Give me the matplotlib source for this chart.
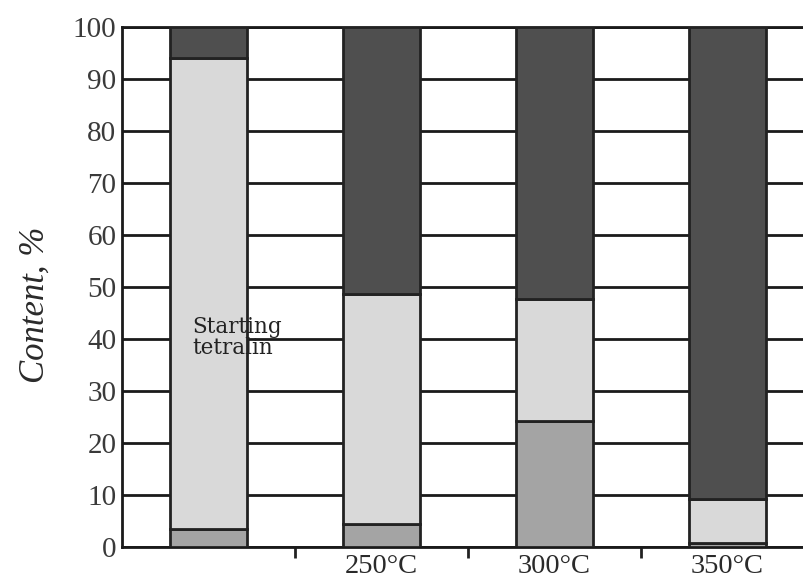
import matplotlib
matplotlib.use("Agg")
import matplotlib.pyplot as plt
from matplotlib.ticker import FixedLocator

categories = ["", "250°C", "300°C", "350°C"]
bottom_part = [3.5, 4.5, 24.3, 0.8]
middle_part = [90.5, 44.2, 23.4, 8.5]
top_part = [6.0, 51.3, 52.3, 90.7]

col_bottom = "#a4a4a4"
col_middle = "#d9d9d9"
col_top = "#4f4f4f"
edge = "#222222"

plt.rcParams["font.family"] = ["Liberation Serif", "DejaVu Serif"]

fig = plt.figure(figsize=(8.04, 5.79), dpi=100)
ax = fig.add_axes([0.1517, 0.0553, 0.8483, 0.898])

x = list(range(len(categories)))
w = 0.445
kw = dict(width=w, edgecolor=edge, linewidth=2.0, zorder=3)
ax.bar(x, bottom_part, color=col_bottom, **kw)
ax.bar(x, middle_part, bottom=bottom_part, color=col_middle, **kw)
b3 = [a + b for a, b in zip(bottom_part, middle_part)]
ax.bar(x, top_part, bottom=b3, color=col_top, **kw)

ax.set_xlim(-0.5, 3.445)
ax.set_ylim(0, 100)
ax.set_yticks(range(0, 101, 10))
ax.yaxis.grid(True, color="#1a1a1a", linewidth=2.0, zorder=1)
ax.set_axisbelow(True)
ax.tick_params(axis="y", length=0, labelsize=21, pad=4, labelcolor="#3a3a3a")

ax.set_xticks(x)
ax.set_xticklabels(categories)
ax.tick_params(axis="x", which="major", length=0, labelsize=20.5, pad=5, labelcolor="#2a2a2a")
ax.xaxis.set_minor_locator(FixedLocator([0.5, 1.5, 2.5]))
ax.tick_params(axis="x", which="minor", length=8, width=2, direction="out", color="#222222")

for s in ["left", "bottom", "top"]:
    ax.spines[s].set_linewidth(2.0)
    ax.spines[s].set_color("#1a1a1a")
ax.spines["right"].set_visible(False)

ax.set_ylabel("Content, %", fontsize=25, style="italic", color="#2a2a2a")
ax.yaxis.set_label_coords(-0.103, 0.465)

ax.text(-0.095, 40.3, "Starting\ntetralin", fontsize=15.5, color="#222222",
        family="DejaVu Serif", ha="left", va="center", linespacing=0.9, zorder=5)

fig.savefig("out.png", dpi=100)
